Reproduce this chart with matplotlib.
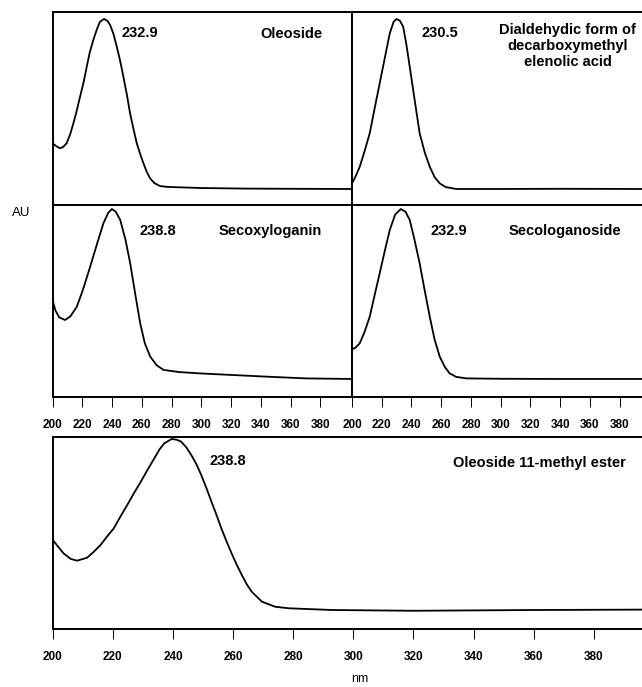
import matplotlib
matplotlib.use('Agg')
import matplotlib.pyplot as plt

plt.rcParams['font.family'] = ['Liberation Sans', 'DejaVu Sans']

# spectra (nm, relative AU)
oleo_nm = [200, 202.5, 205, 207, 209.5, 212, 214, 216, 218.5, 221, 223, 225, 227.4, 229.8, 231.9,
           234.6, 236.8, 238.7, 241, 243.2, 245.5, 247.6, 250, 252.1, 254.5, 256.6, 259, 261.1,
           263.3, 265.6, 268.5, 272.3, 277, 283.5, 300, 330, 360, 401]
oleo_au = [0.32, 0.305, 0.294, 0.30, 0.32, 0.37, 0.423, 0.48, 0.561, 0.64, 0.717, 0.79, 0.855,
           0.91, 0.95, 0.964, 0.955, 0.933, 0.885, 0.82, 0.745, 0.665, 0.57, 0.475, 0.39, 0.32,
           0.262, 0.216, 0.172, 0.138, 0.113, 0.098, 0.094, 0.092, 0.088, 0.085, 0.084, 0.083]

dial_nm = [200, 202.5, 205.2, 208.5, 211.9, 215.2, 218.6, 222, 225.4, 228, 230, 232.2, 234.4,
           236.6, 238.8, 242.2, 245.5, 249, 252.3, 255.5, 259, 263, 270, 300, 340, 395]
dial_au = [0.112, 0.15, 0.198, 0.28, 0.371, 0.50, 0.63, 0.76, 0.89, 0.95, 0.964, 0.955, 0.924,
           0.83, 0.717, 0.54, 0.371, 0.27, 0.198, 0.145, 0.112, 0.093, 0.083, 0.083, 0.084, 0.083]

secox_nm = [200, 202, 204.5, 208.4, 212, 216.3, 220.5, 225.3, 230, 234.2, 237.5, 239.9, 242.5,
            245.5, 249, 252.2, 255.5, 258.9, 262, 265.7, 270, 274.6, 285, 299, 320, 344, 370, 401]
secox_au = [0.505, 0.45, 0.415, 0.401, 0.42, 0.47, 0.56, 0.679, 0.80, 0.905, 0.96, 0.979, 0.965,
            0.922, 0.82, 0.696, 0.54, 0.384, 0.28, 0.21, 0.165, 0.141, 0.13, 0.123, 0.115, 0.106,
            0.097, 0.094]

seclo_nm = [200, 202.5, 205.2, 208.5, 211.9, 215.2, 218.6, 222, 225.4, 229, 232.8, 236, 238.8,
            242, 245.5, 249, 252.3, 255.5, 259, 262.5, 265.7, 270, 276.9, 300, 340, 395]
seclo_au = [0.248, 0.258, 0.28, 0.34, 0.418, 0.53, 0.644, 0.76, 0.87, 0.95, 0.979, 0.965, 0.922,
            0.82, 0.696, 0.55, 0.418, 0.30, 0.21, 0.155, 0.123, 0.105, 0.097, 0.095, 0.094, 0.094]

ester_nm = [200, 203.6, 206, 208.1, 211.4, 213.5, 215.9, 218, 220.3, 222.5, 224.8, 227, 229.3,
            231.5, 233.8, 235.5, 237.1, 239.6, 241.2, 242.7, 244.5, 246.1, 247.8, 249.4, 251.1,
            252.8, 254.5, 256.1, 257.8, 259.5, 261.2, 262.9, 264.5, 266.2, 269.6, 274, 278.5, 293,
            320, 360, 396]
ester_au = [0.464, 0.394, 0.365, 0.356, 0.371, 0.40, 0.4375, 0.48, 0.524, 0.585, 0.646, 0.707,
            0.767, 0.828, 0.889, 0.935, 0.967, 0.99, 0.986, 0.976, 0.945, 0.906, 0.858, 0.802,
            0.735, 0.663, 0.593, 0.524, 0.457, 0.394, 0.335, 0.281, 0.234, 0.194, 0.142, 0.116,
            0.108, 0.099, 0.095, 0.099, 0.101]

ticks = list(range(200, 400, 20))


def style(ax, xmax, labels):
    ax.set_xlim(200, xmax)
    ax.set_ylim(0, 1)
    ax.set_yticks([])
    for s in ax.spines.values():
        s.set_linewidth(1.4)
    if labels:
        ax.set_xticks(ticks)
        ax.tick_params(axis='x', direction='out', length=7.5, width=0.7, pad=8,
                       labelsize=8.5, colors='black')
        for t in ax.get_xticklabels():
            t.set_fontweight('bold')
    else:
        ax.set_xticks([])


fig = plt.figure(figsize=(6.42, 6.87), dpi=100)

lx, lw = 0.0818, 0.466
rx, rw = 0.5483, 0.4517
ax1 = fig.add_axes([lx, 0.7016, lw, 0.2809])
ax2 = fig.add_axes([rx, 0.7016, rw, 0.2809])
ax3 = fig.add_axes([lx, 0.4221, lw, 0.2795])
ax4 = fig.add_axes([rx, 0.4221, rw, 0.2795])
ax5 = fig.add_axes([0.0821, 0.0844, 0.9179, 0.2795])

lc = dict(color='black', lw=1.3)
ax1.plot(oleo_nm, oleo_au, **lc)
ax2.plot(dial_nm, dial_au, **lc)
ax3.plot(secox_nm, secox_au, **lc)
ax4.plot(seclo_nm, seclo_au, **lc)
ax5.plot(ester_nm, ester_au, **lc)

style(ax1, 401, False)
style(ax2, 395, False)
style(ax3, 401, True)
style(ax4, 395, True)
style(ax5, 396, True)
ax2.spines['right'].set_visible(False)
ax4.spines['right'].set_visible(False)
ax5.spines['right'].set_visible(False)

tk = dict(fontsize=10.5, fontweight='bold', ha='center', va='center')
ax1.text(258.8, 0.891, '232.9', **tk)
ax1.text(360.4, 0.886, 'Oleoside', **tk)
ax2.text(259, 0.891, '230.5', **tk)
ax2.text(344.9, 0.824, 'Dialdehydic form of\ndecarboxymethyl\nelenolic acid',
         linespacing=1.15, **tk)
ax3.text(270.9, 0.866, '238.8', **tk)
ax3.text(346.3, 0.866, 'Secoxyloganin', **tk)
ax4.text(265, 0.866, '232.9', **tk)
ax4.text(343.1, 0.866, 'Secologanoside', **tk)
ax5.text(258.4, 0.877, '238.8', **tk)
ax5.text(362, 0.866, 'Oleoside 11-methyl ester', **tk)

fig.text(21 / 642, 1 - 212.7 / 687, 'AU', fontsize=9.5, ha='center', va='center')
fig.text(360 / 642, 2 / 687, 'nm', fontsize=9, ha='center', va='bottom')

fig.savefig('out.png', dpi=100)
